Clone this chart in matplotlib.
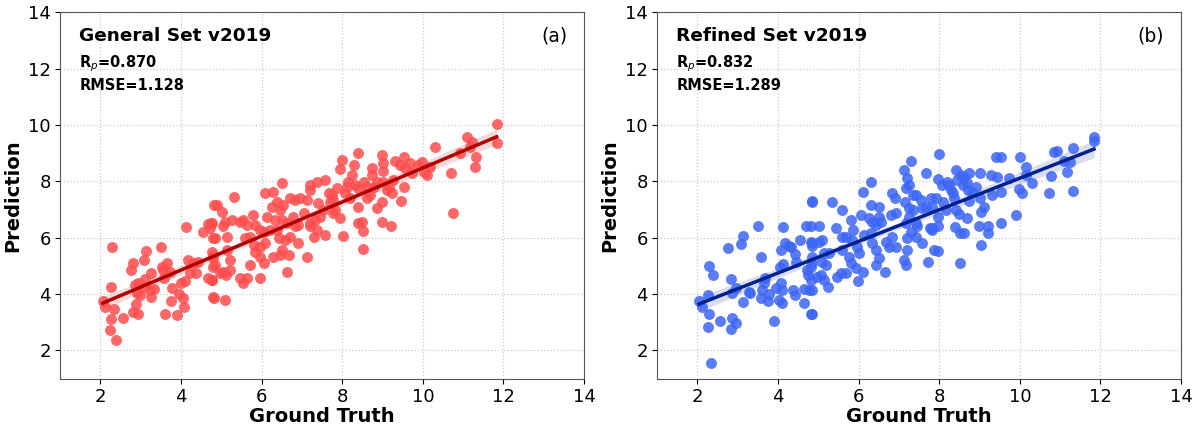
import numpy as np
import matplotlib.pyplot as plt

# Datos (Ground Truth, Prediction)
gen_x = [2.06, 2.12, 2.28, 2.26, 2.34, 2.26, 2.24, 2.38, 2.55, 2.80, 2.75, 3.13, 3.08, 3.50, 2.82, 2.94,
         2.88, 2.86, 2.94, 2.90, 2.98, 3.11, 3.07, 3.26, 3.23, 3.32, 3.26, 3.52, 3.65, 3.56, 3.58, 3.73,
         3.77, 3.75, 3.60, 3.89, 3.94, 3.99, 4.10, 4.06, 4.08, 4.12, 4.18, 4.22, 4.31, 4.37, 4.43, 4.54,
         4.66, 4.74, 4.72, 4.82, 4.80, 4.68, 4.76, 4.80, 4.80, 4.79,
         4.76, 4.85, 4.76, 4.80, 4.85, 4.76, 4.82, 5.09, 4.89, 5.01, 5.05, 5.14, 5.09, 5.26, 5.32, 5.14,
         5.22, 5.05, 5.12, 5.22, 4.97, 5.47, 5.55, 5.63, 5.71, 5.95, 5.47, 5.55, 5.63, 5.59, 5.71, 5.78,
         5.84, 5.80, 5.84, 5.96, 5.96, 6.05, 6.09, 5.95, 6.05, 6.13, 6.09, 6.29, 6.50, 6.25, 6.38, 6.46,
         6.54, 6.71, 6.83, 6.96, 7.12, 7.20, 7.37, 7.58, 7.20, 7.41, 7.66, 7.70, 7.78, 6.34, 6.50, 6.62,
         6.79, 6.91, 7.04, 7.20, 7.33, 7.45, 7.53, 6.29, 6.50, 6.46, 6.67, 6.62, 6.91, 7.12, 6.71, 6.58,
         7.29, 7.58, 7.37, 7.20, 6.83, 6.38, 6.21, 6.42,
         7.74, 7.82, 7.95, 8.03, 7.99, 7.95, 8.07, 8.15, 8.24, 8.28, 8.40, 8.32, 8.40, 8.53, 8.40, 8.40,
         8.49, 8.51, 8.51, 8.61, 8.69, 8.73, 8.73, 8.86, 8.98, 8.98, 9.02, 8.98, 9.01, 9.01, 9.11, 9.23,
         9.21, 9.31, 9.27, 9.44, 9.45, 9.52, 9.52, 9.56, 9.69, 9.73, 9.89, 9.97, 10.02, 10.10, 10.18, 10.31,
         10.69, 10.74, 7.78, 7.87, 8.11, 8.20, 8.61, 8.78, 8.86, 9.15,
         11.09, 10.93, 11.21, 11.17, 11.32, 11.30, 11.83, 11.83]
gen_y = [3.74, 3.56, 5.69, 4.27, 3.46, 3.11, 2.73, 2.37, 3.14, 5.12, 4.86, 5.53, 5.21, 5.69, 3.36, 3.30,
         3.64, 4.33, 4.39, 4.03, 3.97, 4.54, 4.27, 4.74, 4.15, 4.18, 3.91, 4.98, 5.10, 4.86, 4.56, 4.80,
         4.21, 3.77, 3.29, 3.26, 4.01, 4.39, 4.45, 3.85, 3.53, 6.37, 5.21, 4.74, 5.10, 4.74, 5.15, 6.22,
         6.49, 6.54, 6.34, 7.16, 5.98, 4.56, 4.50, 5.39, 4.98, 3.91,
         6.51, 5.98, 5.51, 5.27, 5.04, 4.50, 3.88, 3.79, 7.16, 6.93, 6.40, 6.04, 6.57, 6.63, 7.43, 5.57,
         5.21, 4.80, 4.68, 4.86, 4.74, 4.56, 4.39, 4.56, 5.04, 4.59, 6.57, 6.63, 6.45, 5.98, 6.04, 6.81,
         6.45, 5.74, 5.51, 5.69, 5.33, 5.10, 5.80, 6.28, 6.22, 6.75, 7.58, 7.64, 7.96, 7.10, 7.28, 6.99,
         7.16, 7.40, 7.34, 7.40, 7.34, 7.87, 7.99, 8.05, 7.70, 7.22, 7.58, 7.28, 6.87, 6.63, 6.63, 6.51,
         6.75, 6.45, 6.87, 6.51, 6.63, 6.75, 6.99, 5.33, 5.57, 5.39, 5.39, 4.80, 5.80, 5.33, 6.04, 5.92,
         6.04, 6.10, 6.28, 6.40, 6.40, 6.28, 6.28, 5.98,
         7.52, 6.99, 6.69, 6.06, 8.76, 8.43, 7.58, 7.99, 8.23, 8.58, 9.02, 7.87, 7.75, 7.99, 7.10, 6.51,
         6.57, 6.25, 5.59, 7.40, 7.52, 8.46, 8.23, 7.04, 7.28, 6.57, 7.99, 8.94, 8.64, 8.38, 7.70, 7.58,
         6.40, 8.74, 8.05, 8.58, 7.32, 7.81, 8.88, 8.46, 8.64, 8.29, 8.58, 8.70, 8.35, 8.23, 8.50, 9.21,
         8.29, 6.89, 7.34, 7.75, 7.81, 7.40, 7.81, 7.81, 7.99, 7.81,
         9.59, 9.02, 9.41, 9.21, 8.88, 8.52, 10.04, 9.37]

ref_x = [2.04, 2.12, 2.27, 2.29, 2.27, 2.29, 2.39, 2.55, 2.35, 2.77, 2.83, 2.87, 2.84, 2.95, 2.87, 2.95,
         3.12, 3.09, 3.12, 3.27, 3.31, 3.51, 3.57, 3.57, 3.60, 3.65, 3.68, 3.78, 3.76, 3.90, 3.96, 4.03,
         4.09, 4.07, 4.11, 4.04, 4.13, 4.07, 4.13, 4.18, 4.28, 4.32, 4.42, 4.44, 4.37, 4.42, 4.65, 4.65,
         4.55, 4.69, 4.73, 4.75, 4.77, 4.81, 4.81, 4.84, 4.84, 4.85,
         4.85, 4.81, 4.85, 4.84, 4.81, 4.81, 4.84, 4.84, 5.02, 5.02, 5.10, 4.98, 5.06, 5.14, 5.23, 5.10,
         5.19, 5.27, 5.14, 5.33, 5.45, 5.58, 5.47, 5.56, 5.68, 5.60, 5.68, 5.60, 5.76, 5.81, 5.93, 5.99,
         5.81, 5.85, 5.83, 5.97, 6.01, 6.10, 6.05, 6.11, 6.30, 6.30, 6.51, 6.26, 6.34, 6.43, 6.51, 6.55,
         6.14, 6.30, 6.34, 6.43, 6.51, 6.43, 6.66, 6.67, 6.76, 6.80, 6.82, 6.91, 6.92, 6.84, 6.92, 7.13,
         7.21, 7.17, 7.25, 7.31, 7.15, 7.34, 7.42, 7.54, 7.25, 7.34, 7.25, 7.17, 7.42, 7.46, 7.29, 7.42,
         7.21, 7.13, 7.17, 7.21, 7.67, 7.58, 7.67, 7.79, 7.77, 7.83, 7.58, 7.71, 7.87,
         8.00, 7.96, 7.91, 7.83, 7.96, 7.98, 7.83, 7.98, 8.08, 8.10, 8.16, 8.20, 8.25, 8.29, 8.33, 8.37,
         8.41, 8.45, 8.53, 8.58, 8.62, 8.74, 8.70, 8.72, 8.74, 8.41, 8.49, 8.70, 8.39, 8.51, 8.62, 8.52,
         8.82, 8.91, 9.01, 9.01, 9.03, 9.11, 8.99, 9.22, 9.20, 9.03, 9.28, 9.30, 9.44, 9.53, 9.53, 9.73,
         9.90, 10.00, 9.98, 10.05, 10.16, 10.15, 10.31, 9.40, 9.53, 10.73, 10.77, 10.85,
         10.93, 11.10, 11.24, 11.16, 11.31, 11.32, 11.84, 11.84]
ref_y = [3.77, 3.56, 3.97, 3.30, 2.83, 5.00, 4.68, 3.03, 1.55, 5.63, 4.53, 3.15, 2.77, 2.97, 4.03, 4.21,
         6.06, 5.78, 3.71, 4.09, 4.03, 6.43, 5.30, 3.85, 4.15, 4.39, 4.56, 4.01, 3.77, 3.06, 4.21, 3.80,
         3.70, 4.39, 4.15, 4.98, 5.07, 5.57, 6.37, 5.80, 5.71, 5.66, 5.43, 5.15, 4.15, 3.97, 4.17, 3.70,
         5.92, 6.40, 4.86, 4.68, 4.15, 3.30, 5.86, 5.71, 7.30, 5.10,
         7.28, 6.40, 5.80, 5.33, 4.98, 4.50, 4.15, 3.30, 6.40, 5.86, 5.92, 4.62, 4.68, 4.50, 4.27, 5.15,
         5.04, 5.45, 5.45, 7.28, 6.34, 6.99, 4.62, 4.74, 4.74, 6.04, 6.04, 5.57, 5.33, 5.10, 4.92, 4.48,
         6.63, 6.28, 5.92, 5.68, 5.45, 4.80, 6.81, 7.64, 7.99, 7.16, 7.10, 6.69, 6.57, 6.45, 6.75, 6.57,
         6.10, 6.16, 5.80, 5.57, 5.27, 5.04, 4.80, 5.86, 5.69, 6.81, 7.58, 7.40, 6.87, 6.04, 5.69, 8.40,
         8.11, 7.75, 7.87, 8.72, 7.28, 7.52, 7.52, 7.34, 7.04, 6.99, 6.75, 6.51, 6.51, 6.40, 6.22, 6.04,
         5.98, 5.21, 5.04, 5.57, 8.29, 7.04, 7.08, 7.40, 6.34, 6.28, 5.80, 5.15, 5.57,
         8.99, 8.09, 7.40, 7.10, 6.75, 6.40, 6.34, 5.54, 7.87, 7.28, 6.99, 7.99, 7.87, 7.70, 7.58, 7.40,
         8.40, 8.05, 8.23, 7.87, 8.17, 8.29, 7.93, 7.70, 7.32, 6.99, 6.84, 6.69, 6.37, 6.16, 6.16, 5.09,
         7.64, 7.81, 8.31, 7.40, 6.93, 7.10, 6.40, 6.42, 6.18, 5.75, 8.23, 7.52, 8.17, 7.64, 6.51, 8.11,
         6.81, 8.88, 7.72, 7.60, 8.50, 8.23, 7.93, 8.88, 8.88, 7.58, 8.19, 9.05,
         9.09, 8.74, 8.70, 8.35, 9.17, 7.67, 9.59, 9.44]

titulos = ['General Set v2019', 'Refined Set v2019']
etiquetas = ['(a)', '(b)']
rp = [0.870, 0.832]
rmse = [1.128, 1.289]
ticks = [2, 4, 6, 8, 10, 12, 14]


def graficar(ax, x, y, color_punto, color_linea, titulo, etiqueta, r, e):
    x = np.array(x)
    y = np.array(y)

    # Recta de regresión con banda de confianza (95%)
    m, b = np.polyfit(x, y, 1)
    xs = np.linspace(x.min(), x.max(), 100)
    ys = m * xs + b
    n = len(x)
    resid = y - (m * x + b)
    s = np.sqrt(np.sum(resid ** 2) / (n - 2))
    se = s * np.sqrt(1 / n + (xs - x.mean()) ** 2 / np.sum((x - x.mean()) ** 2))
    ax.fill_between(xs, ys - 1.97 * se, ys + 1.97 * se, color=color_linea, alpha=0.15, lw=0, zorder=2)

    ax.scatter(x, y, s=62, color=color_punto, alpha=0.85, lw=0, zorder=3)
    ax.plot(xs, ys, color=color_linea, lw=2.5, zorder=4)

    ax.set_xlim(1, 14)
    ax.set_ylim(1, 14)
    ax.set_xticks(ticks)
    ax.set_yticks(ticks)
    ax.tick_params(labelsize=13, pad=3)
    ax.grid(True, ls=':', color='#cccccc', lw=0.9)
    ax.set_axisbelow(True)
    for sp in ax.spines.values():
        sp.set_color('#555555')

    ax.set_xlabel('Ground Truth', fontsize=14, fontweight='bold', labelpad=1)
    ax.set_ylabel('Prediction', fontsize=14, fontweight='bold', labelpad=4)

    ax.text(0.037, 0.935, titulo, transform=ax.transAxes, fontsize=13.3, fontweight='bold', va='center')
    ax.text(0.968, 0.935, etiqueta, transform=ax.transAxes, fontsize=13.5, ha='right', va='center')
    ax.text(0.037, 0.86, r'R$_\mathbf{\it{p}}$' + f'={r:.3f}', transform=ax.transAxes,
            fontsize=10.5, fontweight='bold', va='center')
    ax.text(0.037, 0.80, f'RMSE={e:.3f}', transform=ax.transAxes,
            fontsize=10.5, fontweight='bold', va='center')


fig = plt.figure(figsize=(11.94, 4.25), dpi=100)
ax1 = fig.add_axes([0.0503, 0.109, 0.4389, 0.862])
ax2 = fig.add_axes([0.5503, 0.109, 0.4389, 0.862])

graficar(ax1, gen_x, gen_y, '#ff4d4d', '#b00000', titulos[0], etiquetas[0], rp[0], rmse[0])
graficar(ax2, ref_x, ref_y, '#3d66f5', '#00208f', titulos[1], etiquetas[1], rp[1], rmse[1])

fig.savefig('out.png', dpi=100)
